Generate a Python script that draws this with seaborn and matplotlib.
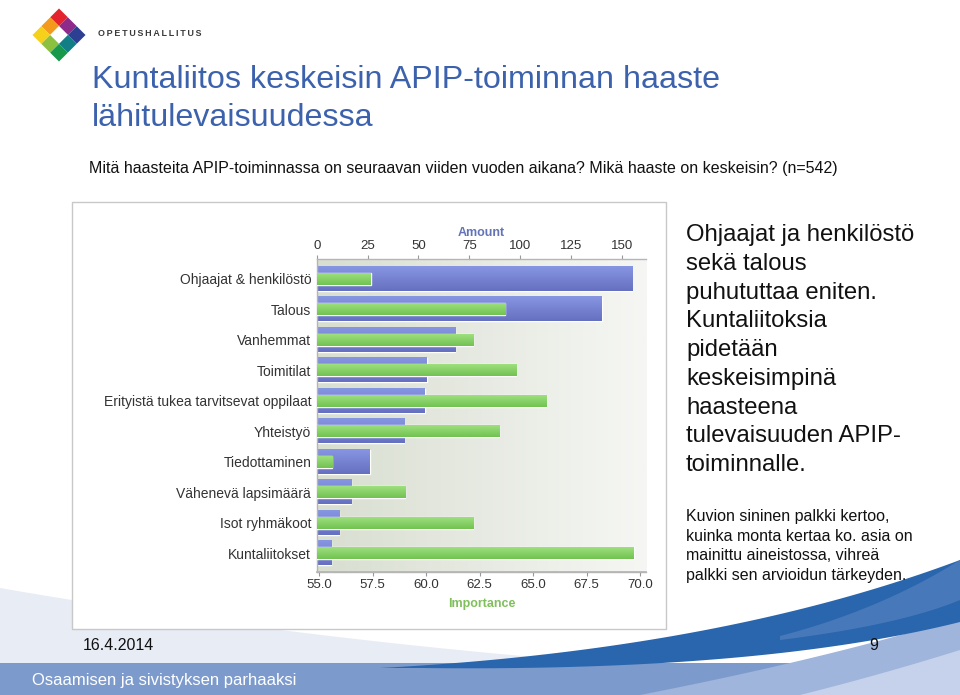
import numpy as np
import pandas as pd
import matplotlib
matplotlib.use("Agg")
import matplotlib.pyplot as plt
import seaborn as sns
from matplotlib.patches import Rectangle, Polygon
from matplotlib.colors import LinearSegmentedColormap
from matplotlib.ticker import FormatStrFormatter

# ---------------- data ----------------
categories = ["Ohjaajat & henkilöstö", "Talous", "Vanhemmat", "Toimitilat",
              "Erityistä tukea tarvitsevat oppilaat", "Yhteistyö", "Tiedottaminen",
              "Vähenevä lapsimäärä", "Isot ryhmäkoot", "Kuntaliitokset"]
amount = [155, 140, 68, 54, 53, 43, 26, 17, 11, 7]
importance = [57.4, 63.7, 62.2, 64.2, 65.6, 63.4, 55.6, 59.0, 62.2, 69.7]
amount_ticks = [0, 25, 50, 75, 100, 125, 150]
importance_ticks = [55.0, 57.5, 60.0, 62.5, 65.0, 67.5, 70.0]

title_lines = ["Kuntaliitos keskeisin APIP-toiminnan haaste", "lähitulevaisuudessa"]
subtitle = "Mitä haasteita APIP-toiminnassa on seuraavan viiden vuoden aikana? Mikä haaste on keskeisin? (n=542)"
side_lines = ["Ohjaajat ja henkilöstö", "sekä talous", "puhututtaa eniten.", "Kuntaliitoksia",
              "pidetään", "keskeisimpinä", "haasteena", "tulevaisuuden APIP-", "toiminnalle."]
note_lines = ["Kuvion sininen palkki kertoo,", "kuinka monta kertaa ko. asia on",
              "mainittu aineistossa, vihreä", "palkki sen arvioidun tärkeyden."]

df = pd.DataFrame({"category": categories, "amount": amount, "importance": importance})

sns.set_theme(style="white")
plt.rcParams["font.family"] = ["Liberation Sans", "DejaVu Sans"]

W, H = 960, 695
fig = plt.figure(figsize=(W / 100, H / 100), dpi=100)
fig.patch.set_facecolor("white")

# ---------------- background / decoration axes (pixel coords) ----------------
bg = fig.add_axes([0, 0, 1, 1], zorder=-10)
bg.set_xlim(0, W)
bg.set_ylim(H, 0)
bg.axis("off")

def quad(p0, p1, p2, n=60):
    t = np.linspace(0, 1, n)[:, None]
    p0, p1, p2 = map(np.array, (p0, p1, p2))
    return (1 - t) ** 2 * p0 + 2 * (1 - t) * t * p1 + t ** 2 * p2

# light grey-blue area on left bottom
top = quad((0, 588), (300, 640), (620, 664))
poly = np.vstack([top, [(620, 664), (0, 664)]])
bg.add_patch(Polygon(poly, closed=True, facecolor="#e8ecf4", edgecolor="none"))
# footer band
bg.add_patch(Rectangle((0, 663), W, 32, facecolor="#7c9bcc", edgecolor="none"))
# lower light bands on right
b1 = quad((960, 618), (820, 660), (640, 695))
bg.add_patch(Polygon(np.vstack([b1, [(960, 695)]]), closed=True, facecolor="#9fb5dc", edgecolor="none"))
b2 = quad((960, 650), (880, 675), (800, 695))
bg.add_patch(Polygon(np.vstack([b2, [(960, 695)]]), closed=True, facecolor="#c6d2ec", edgecolor="none"))
# dark blue swoosh
s_top = quad((380, 668), (720, 650), (960, 560))
s_bot = quad((960, 622), (760, 672), (420, 668))
bg.add_patch(Polygon(np.vstack([s_top, s_bot]), closed=True, facecolor="#2a66ad", edgecolor="none"))
s_top2 = quad((780, 636), (880, 610), (960, 560))
s_bot2 = quad((960, 600), (900, 625), (780, 640))
bg.add_patch(Polygon(np.vstack([s_top2, s_bot2]), closed=True, facecolor="#4f7dbd", edgecolor="none", alpha=0.8))

# chart panel
bg.add_patch(Rectangle((72, 202), 594, 427, facecolor="white", edgecolor="#c8c8c8", linewidth=1))

# logo
cx, cy, s = 59, 35, 12.5
logo_colors = {(-1, -1): "#e3232d", (0, -1): "#8e2a8a", (-1, 0): "#f39a1e",
               (1, -1): "#2c3f93", (-1, 1): "#f6d11b", (0, 0): "#ffffff",
               (1, 0): "#127f86", (0, 1): "#8cc13f", (1, 1): "#17984a"}
r = s / np.sqrt(2)
for (i, j), col in logo_colors.items():
    ccx = cx + (i - j) * r
    ccy = cy + (i + j) * r
    pts = [(ccx, ccy - r), (ccx + r, ccy), (ccx, ccy + r), (ccx - r, ccy)]
    bg.add_patch(Polygon(pts, closed=True, facecolor=col, edgecolor="none"))
bg.text(98, 33, "\u2009".join("OPETUSHALLITUS"), fontsize=6.4, fontweight="bold",
        color="#3a3a3a", va="center", ha="left")

# titles
for k, line in enumerate(title_lines):
    bg.text(92, 80 + 38.5 * k, line, fontsize=23.2, color="#3d62ad", va="center", ha="left")
bg.text(89, 169, subtitle, fontsize=11.55, color="#111111", va="center", ha="left")

for k, line in enumerate(side_lines):
    bg.text(686, 235 + 28.75 * k, line, fontsize=17.2, color="#111111", va="center", ha="left")
for k, line in enumerate(note_lines):
    bg.text(686, 517 + 19.4 * k, line, fontsize=11.5, color="#111111", va="center", ha="left")

bg.text(83, 645, "16.4.2014", fontsize=11.5, color="#111111", va="center", ha="left")
bg.text(874, 645, "9", fontsize=11.5, color="#111111", va="center", ha="center")
bg.text(32, 680, "Osaamisen ja sivistyksen parhaaksi", fontsize=12, color="white",
        va="center", ha="left")

# ---------------- chart axes ----------------
L, R, T, B = 316.7, 646, 259, 571.7
ax1 = fig.add_axes([L / W, (H - B) / H, (R - L) / W, (B - T) / H])
ax1.set_facecolor("none")

blue = "#7382d0"
green = "#86cf66"

sns.barplot(data=df, x="amount", y="category", ax=ax1, color=blue, width=0.79,
            saturation=1, orient="h")
ax2 = ax1.twiny()
sns.barplot(data=df, x="importance", y="category", ax=ax2, color=green, width=0.39,
            saturation=1, orient="h")

# background gradient in plot area
grad = np.linspace(0, 1, 256)[None, :]
bg_cmap = LinearSegmentedColormap.from_list("bgc", ["#d8ded0", "#e7eae2", "#f6f7f4"])
ax1.imshow(grad, cmap=bg_cmap, aspect="auto", extent=(0, 1, 0, 1),
           transform=ax1.transAxes, zorder=0)

# bar gradients (image covering each bar, clipped by the axes)
def shade_bars(ax, light, dark):
    cmap = LinearSegmentedColormap.from_list("bar", [light, dark])
    g = np.linspace(0, 1, 64)[:, None]
    for p in list(ax.patches):
        x0, y0, w, h = p.get_x(), p.get_y(), p.get_width(), p.get_height()
        ax.imshow(g, cmap=cmap, aspect="auto", extent=(x0, x0 + w, y0 + h, y0),
                  zorder=p.get_zorder() + 0.1, interpolation="bilinear")

shade_bars(ax1, "#8796e2", "#6670c0")
shade_bars(ax2, "#9ee07e", "#72c252")

ax1.set_xlim(0, 161.8)
ax2.set_xlim(54.88, 70.28)
ax1.set_ylim(9.6, -0.65)

# axis placement: amount on top, importance on bottom
ax1.xaxis.tick_top()
ax1.xaxis.set_label_position("top")
ax2.xaxis.tick_bottom()
ax2.xaxis.set_label_position("bottom")

ax1.set_xticks(amount_ticks)
ax2.set_xticks(importance_ticks)
ax2.xaxis.set_major_formatter(FormatStrFormatter("%.1f"))

ax1.set_xlabel("Amount", fontsize=9, fontweight="bold", color="#6273b8", labelpad=3)
ax2.set_xlabel("Importance", fontsize=9, fontweight="bold", color="#80bf5c", labelpad=5)
ax1.set_ylabel("")
ax2.set_ylabel("")

ax1.tick_params(axis="x", which="both", top=True, bottom=False, labeltop=True, labelbottom=False,
                length=3, width=0.8, color="#999999", labelsize=9.5, labelcolor="#333333", pad=2)
ax2.tick_params(axis="x", which="both", top=False, bottom=True, labeltop=False, labelbottom=True,
                length=3, width=0.8, color="#999999", labelsize=9.5, labelcolor="#333333", pad=2)
ax1.tick_params(axis="y", length=0, labelsize=10, labelcolor="#333333", pad=4)

for name, sp in ax1.spines.items():
    sp.set_visible(name in ("top", "left", "bottom"))
    sp.set_color("#b5b5b5")
    sp.set_linewidth(1)
for sp in ax2.spines.values():
    sp.set_visible(False)
ax2.spines["bottom"].set_visible(True)
ax2.spines["bottom"].set_color("#b5b5b5")

fig.savefig("out.png", dpi=100, facecolor="white")
